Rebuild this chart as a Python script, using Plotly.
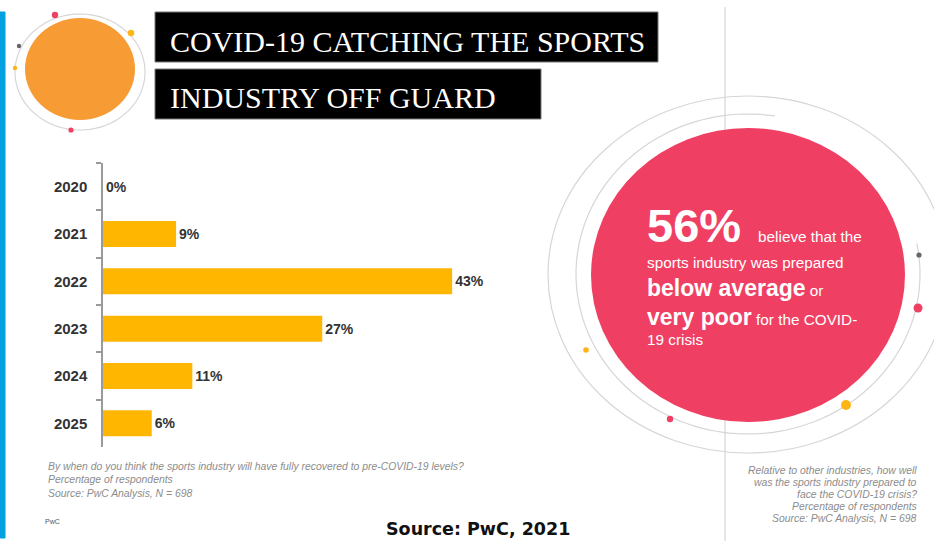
import numpy as np
import plotly.graph_objects as go

# ---------------- data ----------------
years = ["2020", "2021", "2022", "2023", "2024", "2025"]
recovery_pct = [0, 9, 43, 27, 11, 6]

title_lines = ["COVID-19 CATCHING THE SPORTS", "INDUSTRY OFF GUARD"]
left_notes = [
    "By when do you think the sports industry will have fully recovered to pre-COVID-19 levels?",
    "Percentage of respondents",
    "Source: PwC Analysis, N = 698",
]
right_notes = [
    "Relative to other industries, how well",
    "was the sports industry prepared to",
    "face the COVID-19 crisis?",
    "Percentage of respondents",
    "Source: PwC Analysis, N = 698",
]
headline_value = "56%"

W, H = 934, 541
BAR = "#FFB600"
PINK = "#EF4063"
ORANGE = "#F79B34"
GREY_LINE = "#d6d6d6"


def px(x):
    return x / W


def py(y):
    return 1 - y / H


shapes = []


def ellipse(cx, cy, rx, ry, fill=None, line=None, lw=1.2):
    shapes.append(dict(type="circle", xref="paper", yref="paper",
                       x0=px(cx - rx), x1=px(cx + rx), y0=py(cy + ry), y1=py(cy - ry),
                       fillcolor=fill if fill else "rgba(0,0,0,0)",
                       line=dict(color=line if line else "rgba(0,0,0,0)", width=lw if line else 0)))


def rect(x0, y0, x1, y1, fill, line=None):
    shapes.append(dict(type="rect", xref="paper", yref="paper",
                       x0=px(x0), x1=px(x1), y0=py(y1), y1=py(y0),
                       fillcolor=fill,
                       line=dict(color=line if line else fill, width=1)))


def vline(x, y0, y1, color=GREY_LINE, w=1.2):
    shapes.append(dict(type="line", xref="paper", yref="paper",
                       x0=px(x), x1=px(x), y0=py(y0), y1=py(y1),
                       line=dict(color=color, width=w)))


def arc(cx, cy, rx, ry, a0, a1, color=GREY_LINE, w=1.2):
    t = np.radians(np.linspace(a0, a1, 120))
    xs = px(cx + rx * np.cos(t))
    ys = py(cy - ry * np.sin(t))
    d = "M " + " L ".join(f"{a:.5f},{b:.5f}" for a, b in zip(xs, ys))
    shapes.append(dict(type="path", xref="paper", yref="paper", path=d,
                       line=dict(color=color, width=w)))


# left blue strip
rect(0, 12, 5, 538, "#05A0DF")

# top-left decorative circle
arc(80, 72, 65, 58, 0, 360)
ellipse(80, 69, 55, 51, fill=ORANGE)
ellipse(55, 15, 3.2, 3.2, fill="#EF4063")
ellipse(131, 33, 3.2, 3.2, fill="#FDB515")
ellipse(19, 46, 2.2, 2.2, fill="#666666")
ellipse(15, 68, 2.2, 2.2, fill="#FDB515")
ellipse(71, 130, 2.6, 2.6, fill="#EF4063")

# title boxes
rect(155, 12, 658, 62, "#000000", line="#777777")
rect(155, 69, 541, 119, "#000000", line="#777777")

# right decorative circle
vline(725, 7, 541)
ellipse(748, 274.5, 200, 178.5, line=GREY_LINE)
arc(748, 274, 172, 160, 81, 371)
ellipse(748, 275, 157, 147, fill=PINK)
ellipse(919, 255, 2.6, 2.6, fill="#666666")
ellipse(918, 308, 4.5, 4.5, fill="#EF4063")
ellipse(846, 405, 5, 5, fill="#FDB515")
ellipse(670, 419, 3.2, 3.2, fill="#EF4063")
ellipse(586, 350, 2.8, 2.8, fill="#FDB515")

# ---------------- bar chart ----------------
PX_PER_PCT = 8.12
AX_LEFT = 103
fig = go.Figure()
fig.add_trace(go.Bar(
    y=years, x=recovery_pct, orientation="h",
    marker=dict(color=BAR, line=dict(width=0)),
    text=[f"{v}%" for v in recovery_pct], textposition="outside",
    textfont=dict(family="Liberation Sans", size=14, color="#333333", weight="bold"),
    cliponaxis=False, hoverinfo="skip",
))

annotations = []
for i, t in enumerate(title_lines):
    annotations.append(dict(xref="paper", yref="paper", x=px(168), y=py([42, 97][i]),
                            xanchor="left", yanchor="middle", showarrow=False, text=t,
                            font=dict(family="Liberation Serif", size=30, color="#ffffff")))

for i, t in enumerate(left_notes):
    annotations.append(dict(xref="paper", yref="paper", x=px(46), y=py(466 + 13.5 * i),
                            xanchor="left", yanchor="middle", showarrow=False, text=f"<i>{t}</i>",
                            font=dict(family="Liberation Sans", size=10.4, color="#8c8c8c")))

for i, t in enumerate(right_notes):
    annotations.append(dict(xref="paper", yref="paper", x=px(919), y=py(470 + 12 * i),
                            xanchor="right", yanchor="middle", showarrow=False, text=f"<i>{t}</i>",
                            align="right",
                            font=dict(family="Liberation Sans", size=10.4, color="#8c8c8c")))

annotations.append(dict(xref="paper", yref="paper", x=px(43), y=py(521), xanchor="left",
                        yanchor="middle", showarrow=False, text="PwC",
                        font=dict(family="Liberation Sans", size=7, color="#555555")))

annotations.append(dict(xref="paper", yref="paper", x=px(384), y=py(529), xanchor="left",
                        yanchor="middle", showarrow=False, text="<b>Source: PwC, 2021</b>",
                        font=dict(family="DejaVu Sans", size=17.5, color="#111111")))

NB = "\u00a0"
circle_lines = [
    (226, f"<b><span style='font-size:47px'>{headline_value}</span></b>{NB*4}believe that the"),
    (262, "sports industry was prepared"),
    (288, "<b><span style='font-size:23px'>below average</span></b> or"),
    (317, "<b><span style='font-size:23px'>very poor</span></b> for the COVID-"),
    (339, "19 crisis"),
]
for y, t in circle_lines:
    annotations.append(dict(xref="paper", yref="paper", x=px(645), y=py(y), xanchor="left",
                            yanchor="middle", showarrow=False, text=t,
                            font=dict(family="Liberation Sans", size=15.3, color="#ffffff")))

fig.update_layout(
    width=W, height=H, autosize=False,
    margin=dict(l=0, r=0, t=0, b=0, pad=0),
    paper_bgcolor="#ffffff", plot_bgcolor="rgba(0,0,0,0)",
    showlegend=False, bargap=0.45,
    shapes=shapes, annotations=annotations,
    xaxis=dict(domain=[px(AX_LEFT), px(AX_LEFT + 50 * PX_PER_PCT)], range=[0, 50],
               visible=False, fixedrange=True),
    yaxis=dict(domain=[py(447), py(163)], autorange="reversed", type="category",
               showline=True, linecolor="#9a9a9a", linewidth=1.5,
               ticks="outside", tickson="boundaries", ticklen=5, tickcolor="#9a9a9a",
               tickwidth=1.5, ticklabelstandoff=11, showgrid=False, zeroline=False,
               tickfont=dict(family="Liberation Sans", size=15, color="#333333", weight="bold"),
               fixedrange=True),
)

fig.write_html("out.html")
